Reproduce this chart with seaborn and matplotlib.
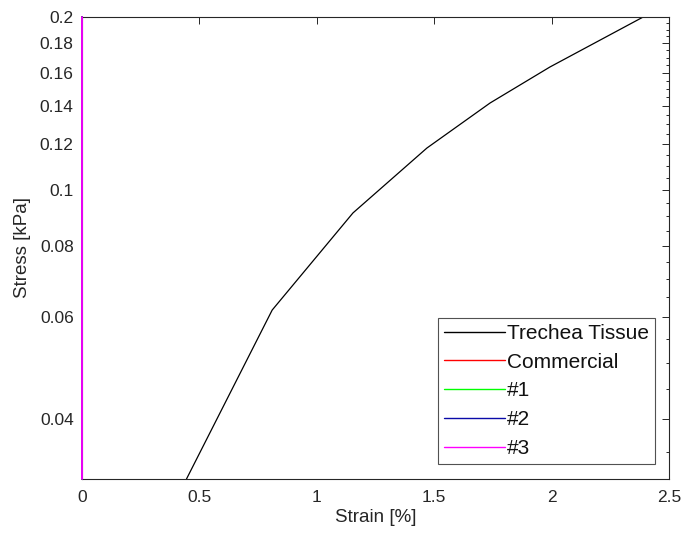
import matplotlib
matplotlib.use("Agg")
import matplotlib.pyplot as plt
import matplotlib.ticker as mticker
import numpy as np
import pandas as pd
import seaborn as sns

# Trachea tissue stress-strain curve
tissue_strain = [0.445, 0.81, 1.154, 1.469, 1.738, 1.993, 2.39]
tissue_stress = [0.0314, 0.0618, 0.0912, 0.1183, 0.1417, 0.1637, 0.200]

# the scaffold series all sit on the strain = 0 axis
zero_strain = [0.0, 0.0]
zero_stress = [0.0314, 0.200]

series_names = ["Trechea Tissue", "Commercial", "#1", "#2", "#3"]
series_colors = ["#000000", "#ff0000", "#00ff00", "#0a0aa8", "#ff00ff"]

y_ticks = [0.04, 0.06, 0.08, 0.1, 0.12, 0.14, 0.16, 0.18, 0.2]
x_ticks = [0, 0.5, 1, 1.5, 2, 2.5]

frames = [pd.DataFrame({"strain": tissue_strain, "stress": tissue_stress, "series": series_names[0]})]
for name in series_names[1:]:
    frames.append(pd.DataFrame({"strain": zero_strain, "stress": zero_stress, "series": name}))
df = pd.concat(frames, ignore_index=True)

sns.set_theme(style="white")
plt.rcParams["font.family"] = ["Liberation Sans", "DejaVu Sans"]
text_col = "#262626"

fig = plt.figure(figsize=(6.81, 5.36), dpi=100)
ax = fig.add_axes([82 / 681, 1 - 479 / 536, 587 / 681, 462 / 536])

for name, color in zip(series_names, series_colors):
    sub = df[df["series"] == name]
    first = name == series_names[0]
    sns.lineplot(data=sub, x="strain", y="stress", color=color, sort=False,
                 linewidth=0.9 if first else 1.3, label=name, ax=ax,
                 estimator=None, zorder=2 if first else 3)
    if not first:
        # these sit on the left spine, let them draw over it
        ax.lines[-1].set_clip_on(False)

ax.set_yscale("log")
ax.set_xlim(0, 2.5)
ax.set_ylim(0.0314, 0.2)
ax.set_xticks(x_ticks)
ax.xaxis.set_major_formatter(mticker.FuncFormatter(lambda v, _: f"{v:g}"))
ax.yaxis.set_major_locator(mticker.FixedLocator(y_ticks))
ax.yaxis.set_major_formatter(mticker.FuncFormatter(lambda v, _: f"{v:g}"))
ax.yaxis.set_minor_locator(mticker.FixedLocator(np.arange(0.035, 0.2, 0.005)))
ax.yaxis.set_minor_formatter(mticker.NullFormatter())

ax.tick_params(axis="both", which="both", direction="in", top=True, right=True,
               colors=text_col, labelsize=12.5, width=0.7)
ax.tick_params(axis="both", which="major", length=5)
ax.tick_params(axis="both", which="minor", length=2.5)
ax.tick_params(axis="x", pad=8)
ax.tick_params(axis="y", pad=6)
for s in ax.spines.values():
    s.set_color(text_col)
    s.set_linewidth(0.8)

ax.set_xlabel("Strain [%]", fontsize=13.5, color=text_col, labelpad=3)
ax.set_ylabel("Stress [kPa]", fontsize=13.5, color=text_col, labelpad=6)

leg = ax.legend(loc="lower right", bbox_to_anchor=(0.976, 0.032), borderaxespad=0,
                fontsize=15, frameon=True, fancybox=False, edgecolor=text_col,
                handlelength=2.9, handletextpad=0.1, labelspacing=0.47,
                borderpad=0.3)
leg.get_frame().set_linewidth(0.8)
for h in leg.get_lines():
    h.set_linewidth(1.0)
for t in leg.get_texts():
    t.set_color("#111111")

fig.savefig("out.png", dpi=100)
